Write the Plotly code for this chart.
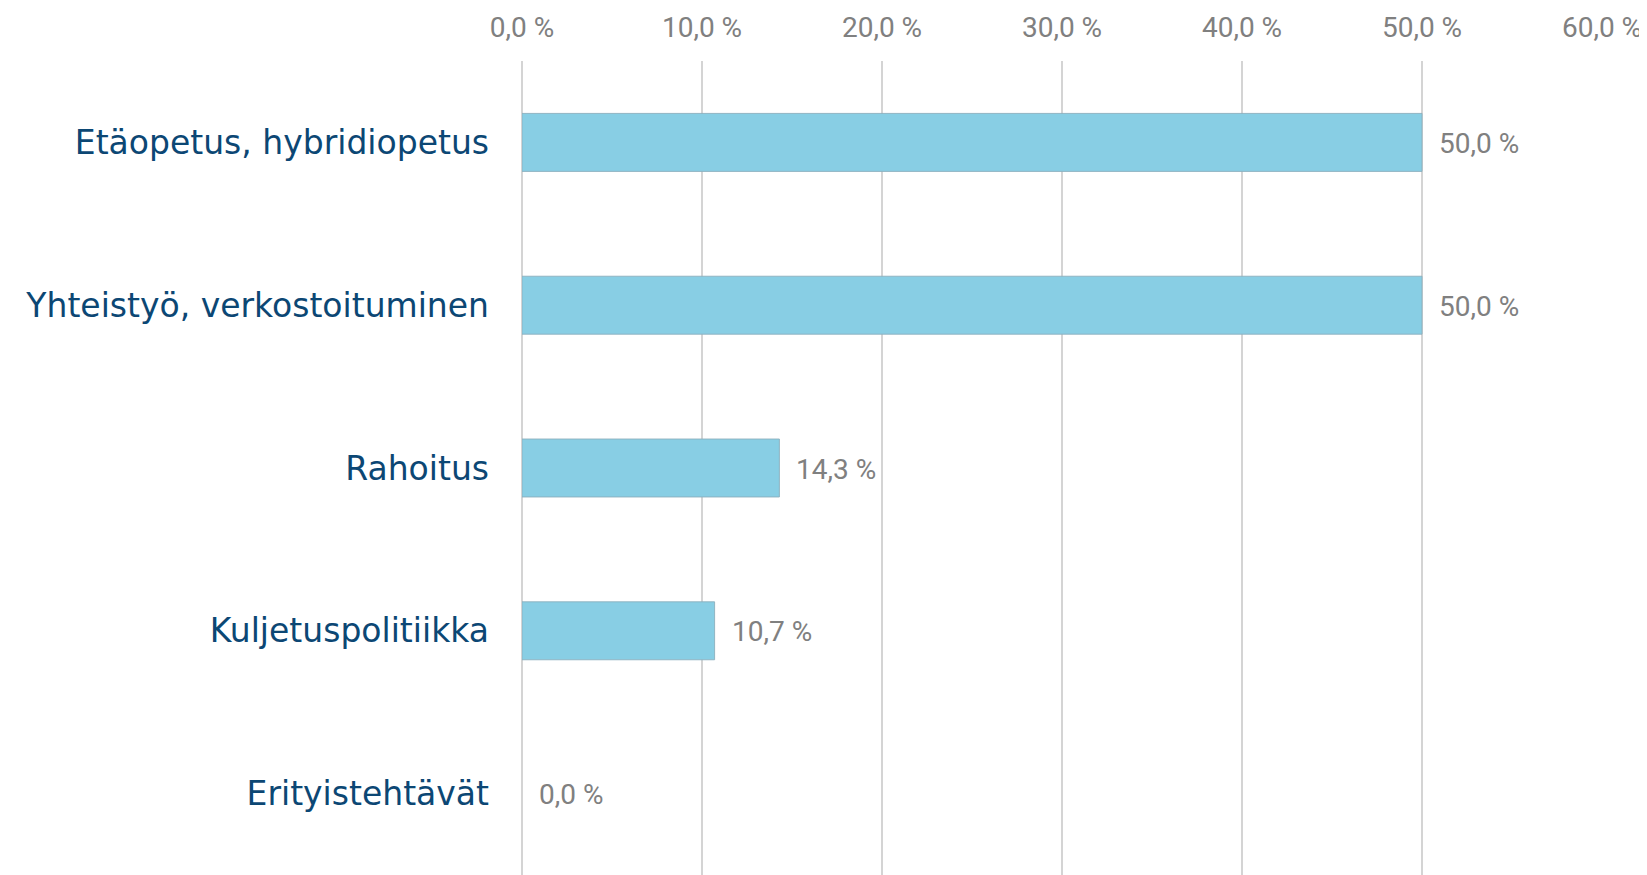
import plotly.graph_objects as go

categories = ["Etäopetus, hybridiopetus", "Yhteistyö, verkostoituminen", "Rahoitus",
              "Kuljetuspolitiikka", "Erityistehtävät"]
values = [50.0, 50.0, 14.3, 10.7, 0.0]
x_ticks = [0, 10, 20, 30, 40, 50, 60]
x_tick_labels = ["0,0 %", "10,0 %", "20,0 %", "30,0 %", "40,0 %", "50,0 %", "60,0 %"]

def fmt(v):
    return f"{v:.1f}".replace(".", ",") + " %"

BAR = "#88CEE4"
GRID = "#D4D4D4"
GRAYTXT = "#808080"
NAVY = "#0C4774"
NUMFONT = "Roboto"
CATFONT = "DejaVu Sans"

fig = go.Figure()
fig.add_trace(go.Bar(
    x=values, y=categories, orientation="h",
    marker=dict(color=BAR,
                line=dict(color="rgba(140,175,190,0.9)",
                          width=[0 if v == 0 else 1 for v in values])),
    hoverinfo="skip", showlegend=False,
))

for v, c in zip(values, categories):
    fig.add_annotation(x=v, y=c, text=fmt(v), showarrow=False, xanchor="left",
                       xshift=15, yshift=-1,
                       font=dict(family=NUMFONT, size=28, color=GRAYTXT))

fig.update_layout(
    width=1639, height=867,
    margin=dict(l=514, r=45, t=53, b=0),
    paper_bgcolor="white", plot_bgcolor="white",
    bargap=0.644,
    font=dict(family=NUMFONT),
    xaxis=dict(
        range=[0, 60], side="top",
        tickvals=x_ticks, ticktext=x_tick_labels,
        tickfont=dict(family=NUMFONT, size=28, color=GRAYTXT),
        showgrid=True, gridcolor=GRID, gridwidth=2,
        zeroline=True, zerolinecolor=GRID, zerolinewidth=2,
        showline=False, ticks="", ticklabelstandoff=17,
        automargin=False, fixedrange=True,
    ),
    yaxis=dict(
        categoryorder="array", categoryarray=categories,
        autorange="reversed",
        tickfont=dict(family=CATFONT, size=33, color=NAVY),
        showgrid=False, zeroline=False, showline=False,
        ticks="", ticklabelstandoff=32,
        automargin=False, fixedrange=True,
    ),
)

fig.write_html("out.html")
